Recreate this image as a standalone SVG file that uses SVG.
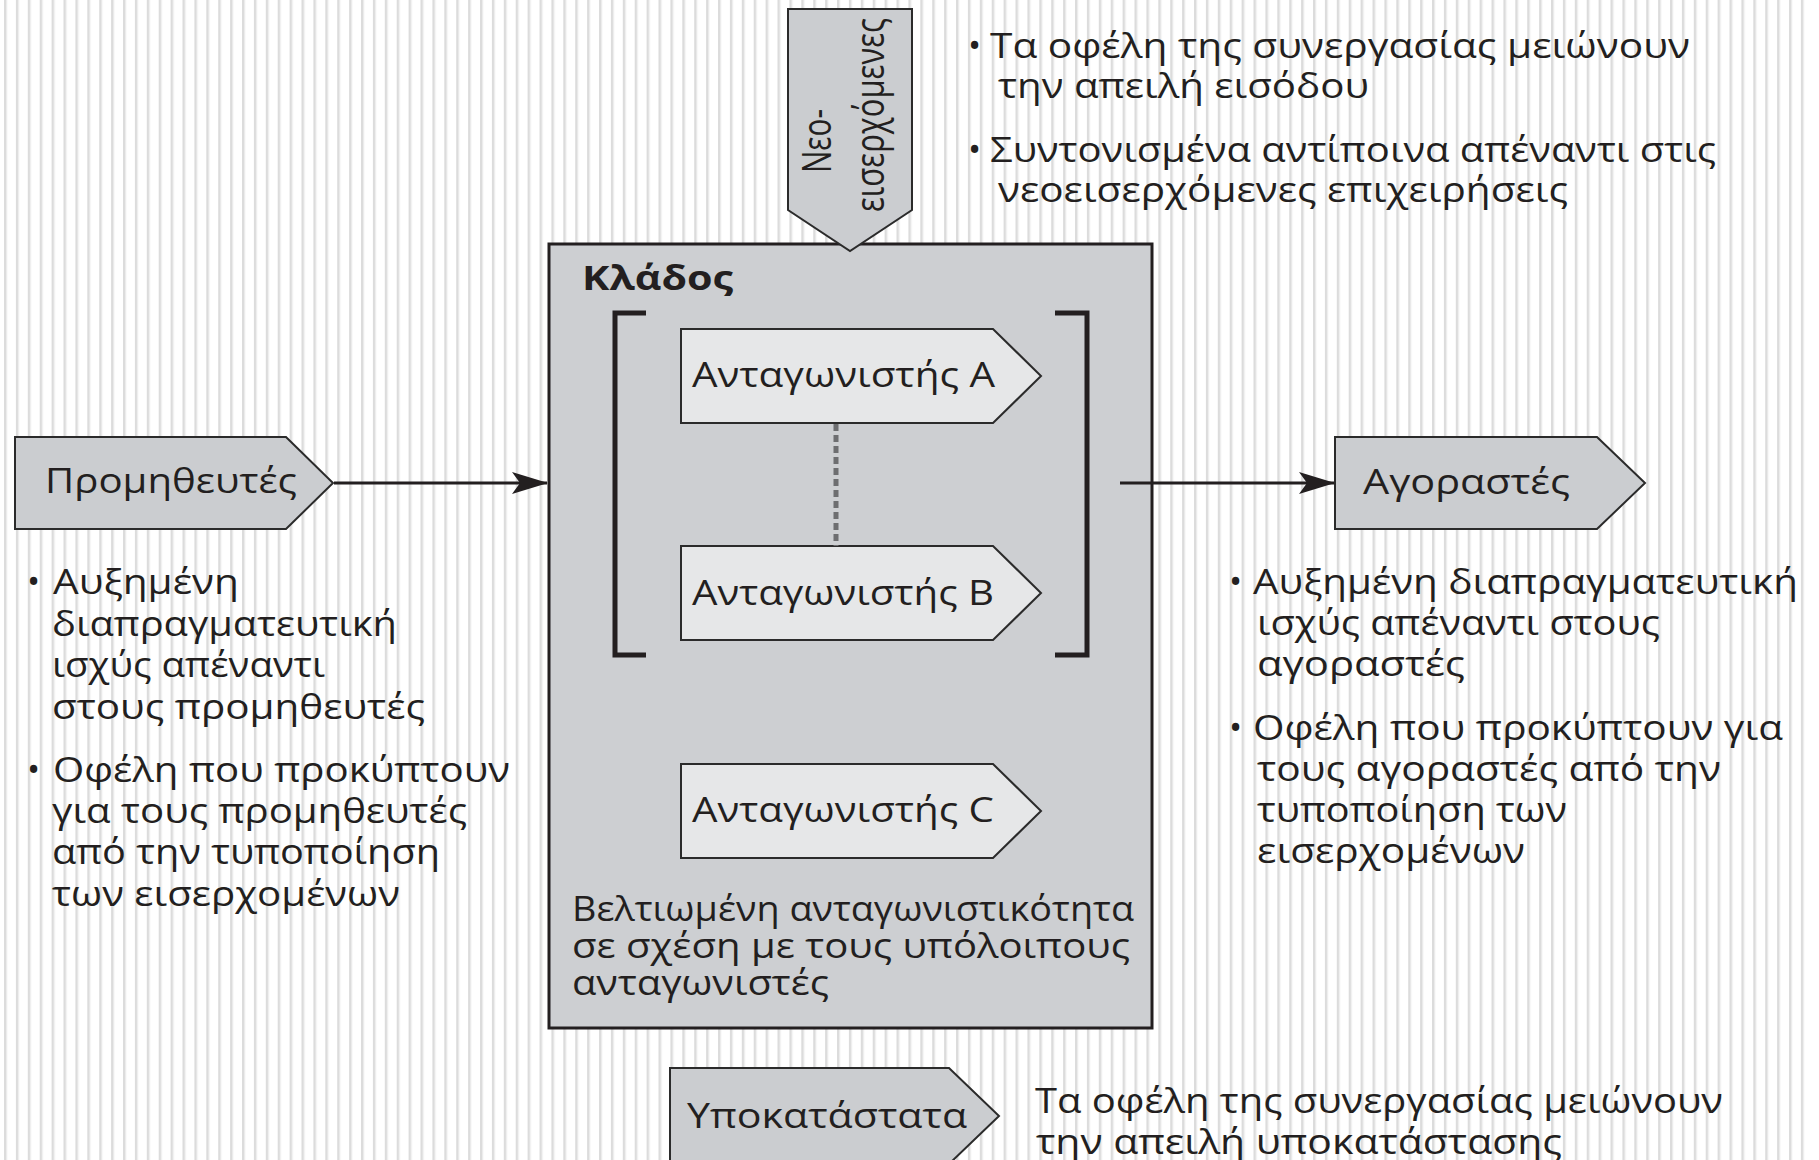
<svg xmlns="http://www.w3.org/2000/svg" width="1819" height="1160" viewBox="0 0 1819 1160">
  <defs>
    <pattern id="stripes" x="4" y="0" width="11.9" height="20" patternUnits="userSpaceOnUse">
      <rect x="0" y="0" width="11.9" height="20" fill="#ffffff"/>
      <rect x="0" y="0" width="2" height="20" fill="#dcdcdc"/>
      <rect x="2" y="0" width="1.2" height="20" fill="#ececec"/>
    </pattern>
    <marker id="arrow" markerUnits="userSpaceOnUse" markerWidth="36" markerHeight="22" viewBox="0 0 36 22" refX="35" refY="11" orient="auto">
      <path d="M0,0 L36,11 L0,22 L8,11 z" fill="#231f20"/>
    </marker>
    <style>
      .t { font-family: "Open Sans", "Noto Sans", "DejaVu Sans", sans-serif; font-size: 35px; fill: #231f20; }
      .b { font-weight: bold; font-size: 34px; }
      .rot { font-size: 40px; }
      .outer { fill: #cbcdd0; stroke: #2b2b2b; stroke-width: 2; }
      .inner { fill: #e6e7e8; stroke: #2b2b2b; stroke-width: 2; }
      .main { fill: #cdcfd2; stroke: #231f20; stroke-width: 3; }
      .bracket { fill: none; stroke: #231f20; stroke-width: 5; }
      .conn { stroke: #231f20; stroke-width: 3; fill: none; }
      .dots { stroke: #6d6e70; stroke-width: 5; stroke-dasharray: 7 4; fill: none; }
    </style>
  </defs>

  <rect x="0" y="0" width="1819" height="1160" fill="#ffffff"/>
  <rect x="4" y="0" width="1802" height="1160" fill="url(#stripes)"/>

  <g id="industry">
    <rect class="main" x="549" y="244" width="603" height="784"/>
    <text class="t b" x="582" y="290" textLength="151" lengthAdjust="spacingAndGlyphs">Κλάδος</text>
    <path class="bracket" d="M646,313 L615,313 L615,655 L646,655"/>
    <path class="bracket" d="M1055,313 L1087,313 L1087,655 L1055,655"/>
    <text class="t" x="572" y="921" textLength="562" lengthAdjust="spacingAndGlyphs">Βελτιωμένη ανταγωνιστικότητα</text>
    <text class="t" x="572" y="958" textLength="558" lengthAdjust="spacingAndGlyphs">σε σχέση με τους υπόλοιπους</text>
    <text class="t" x="572" y="995" textLength="257" lengthAdjust="spacingAndGlyphs">ανταγωνιστές</text>
  </g>

  <g id="new-entrants">
    <path class="outer" d="M788,9 L912,9 L912,210 L850,251 L788,210 Z"/>
    <text class="t rot" transform="translate(831,173) rotate(-90)" textLength="64" lengthAdjust="spacingAndGlyphs">Νεο-</text>
    <text class="t rot" transform="translate(884,212) rotate(-90)" textLength="194" lengthAdjust="spacingAndGlyphs">εισερχόμενες</text>
  </g>

  <g id="competitor-a">
    <path class="inner" d="M681,329 L993,329 L1041,376 L993,423 L681,423 Z"/>
    <text class="t" x="692" y="387" textLength="303" lengthAdjust="spacingAndGlyphs">Ανταγωνιστής A</text>
  </g>
  <g id="competitor-b">
    <path class="inner" d="M681,546 L993,546 L1041,593 L993,640 L681,640 Z"/>
    <text class="t" x="692" y="605" textLength="302" lengthAdjust="spacingAndGlyphs">Ανταγωνιστής B</text>
  </g>
  <g id="competitor-c">
    <path class="inner" d="M681,764 L993,764 L1041,811 L993,858 L681,858 Z"/>
    <text class="t" x="692" y="822" textLength="302" lengthAdjust="spacingAndGlyphs">Ανταγωνιστής C</text>
  </g>

  <g id="suppliers">
    <path class="outer" d="M15,437 L286,437 L333,483 L286,529 L15,529 Z"/>
    <text class="t" x="45" y="493" textLength="252" lengthAdjust="spacingAndGlyphs">Προμηθευτές</text>
  </g>

  <g id="buyers">
    <path class="outer" d="M1335,437 L1597,437 L1645,483 L1597,529 L1335,529 Z"/>
    <text class="t" x="1363" y="494" textLength="207" lengthAdjust="spacingAndGlyphs">Αγοραστές</text>
  </g>

  <g id="substitutes">
    <path class="outer" d="M670,1068 L949,1068 L999,1116 L949,1164 L670,1164 Z"/>
    <text class="t" x="687" y="1128" textLength="280" lengthAdjust="spacingAndGlyphs">Υποκατάστατα</text>
  </g>

  <g id="connectors">
    <line class="conn" x1="334" y1="483" x2="547" y2="483" marker-end="url(#arrow)"/>
    <line class="conn" x1="1120" y1="483" x2="1334" y2="483" marker-end="url(#arrow)"/>
    <line class="dots" x1="836" y1="424" x2="836" y2="546"/>
  </g>

  <g id="notes-entrants">
    <text class="t" x="968" y="58">•</text>
    <text class="t" x="990" y="58" textLength="700" lengthAdjust="spacingAndGlyphs">Τα οφέλη της συνεργασίας μειώνουν</text>
    <text class="t" x="998" y="98" textLength="371" lengthAdjust="spacingAndGlyphs">την απειλή εισόδου</text>
    <text class="t" x="968" y="162">•</text>
    <text class="t" x="990" y="162" textLength="726" lengthAdjust="spacingAndGlyphs">Συντονισμένα αντίποινα απέναντι στις</text>
    <text class="t" x="998" y="202" textLength="570" lengthAdjust="spacingAndGlyphs">νεοεισερχόμενες επιχειρήσεις</text>
  </g>

  <g id="notes-suppliers">
    <text class="t" x="27" y="594">•</text>
    <text class="t" x="53" y="594" textLength="186" lengthAdjust="spacingAndGlyphs">Αυξημένη</text>
    <text class="t" x="52" y="636" textLength="345" lengthAdjust="spacingAndGlyphs">διαπραγματευτική</text>
    <text class="t" x="52" y="677" textLength="273" lengthAdjust="spacingAndGlyphs">ισχύς απέναντι</text>
    <text class="t" x="52" y="719" textLength="373" lengthAdjust="spacingAndGlyphs">στους προμηθευτές</text>
    <text class="t" x="27" y="782">•</text>
    <text class="t" x="53" y="782" textLength="457" lengthAdjust="spacingAndGlyphs">Οφέλη που προκύπτουν</text>
    <text class="t" x="52" y="823" textLength="415" lengthAdjust="spacingAndGlyphs">για τους προμηθευτές</text>
    <text class="t" x="52" y="864" textLength="388" lengthAdjust="spacingAndGlyphs">από την τυποποίηση</text>
    <text class="t" x="52" y="906" textLength="348" lengthAdjust="spacingAndGlyphs">των εισερχομένων</text>
  </g>

  <g id="notes-buyers">
    <text class="t" x="1229" y="594">•</text>
    <text class="t" x="1253" y="594" textLength="545" lengthAdjust="spacingAndGlyphs">Αυξημένη διαπραγματευτική</text>
    <text class="t" x="1257" y="635" textLength="403" lengthAdjust="spacingAndGlyphs">ισχύς απέναντι στους</text>
    <text class="t" x="1257" y="676" textLength="208" lengthAdjust="spacingAndGlyphs">αγοραστές</text>
    <text class="t" x="1229" y="740">•</text>
    <text class="t" x="1253" y="740" textLength="530" lengthAdjust="spacingAndGlyphs">Οφέλη που προκύπτουν για</text>
    <text class="t" x="1257" y="781" textLength="464" lengthAdjust="spacingAndGlyphs">τους αγοραστές από την</text>
    <text class="t" x="1257" y="822" textLength="310" lengthAdjust="spacingAndGlyphs">τυποποίηση των</text>
    <text class="t" x="1257" y="863" textLength="268" lengthAdjust="spacingAndGlyphs">εισερχομένων</text>
  </g>

  <g id="notes-substitutes">
    <text class="t" x="1035" y="1113" textLength="688" lengthAdjust="spacingAndGlyphs">Τα οφέλη της συνεργασίας μειώνουν</text>
    <text class="t" x="1036" y="1154" textLength="526" lengthAdjust="spacingAndGlyphs">την απειλή υποκατάστασης</text>
  </g>
</svg>
